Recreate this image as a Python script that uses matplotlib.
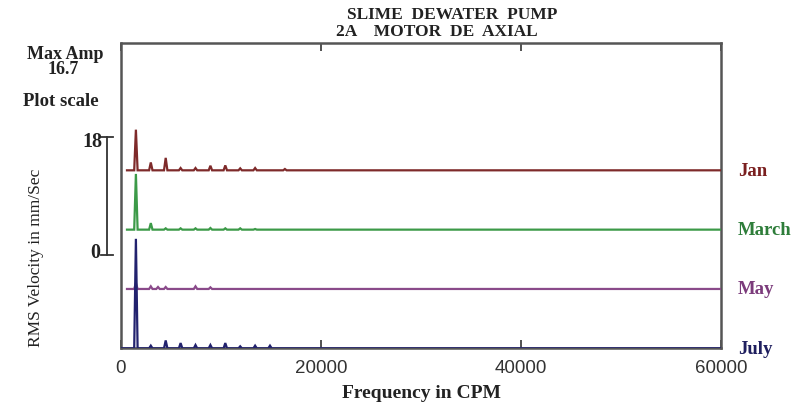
import matplotlib
matplotlib.use("Agg")
import matplotlib.pyplot as plt
import matplotlib.transforms as mtransforms

# ---- data -----------------------------------------------------------------
months = ["Jan", "March", "May", "July"]

# spectral peaks (frequency in CPM, RMS velocity in mm/s) for each survey
jan_freq = [1490, 2980, 4470, 5960, 7450, 8940, 10430, 11920, 13410, 16390]
jan_amp = [6.2, 1.2, 1.9, 0.35, 0.35, 0.7, 0.75, 0.3, 0.35, 0.2]

march_freq = [1490, 2980, 4470, 5960, 7450, 8940, 10430, 11920, 13410]
march_amp = [8.5, 1.0, 0.2, 0.2, 0.2, 0.25, 0.2, 0.2, 0.1]

may_freq = [1490, 2980, 3700, 4470, 7450, 8940]
may_amp = [0.9, 0.4, 0.3, 0.3, 0.4, 0.25]

july_freq = [1490, 2980, 4470, 5960, 7450, 8940, 10430, 11920, 13410, 14900]
july_amp = [16.7, 0.4, 1.2, 0.8, 0.5, 0.5, 0.8, 0.3, 0.4, 0.4]

max_amp = 16.7
plot_scale = 18
trace_spacing = 9.05          # vertical offset between stacked traces (mm/s)
x_ticks = [0, 20000, 40000, 60000]

# ---- styling --------------------------------------------------------------
trace_colors = ["#7e2a2a", "#3c9a48", "#8a4a8a", "#22226e"]
label_colors = ["#7a1f1f", "#2e7d3a", "#7b3b7b", "#1f1f5f"]
SERIF = ["Liberation Serif", "DejaVu Serif"]
SANS = ["Liberation Sans", "DejaVu Sans"]

W, H = 807, 410
fig = plt.figure(figsize=(W / 100, H / 100), dpi=100)
ax = fig.add_axes([121 / W, 1 - 349.3 / H, 600 / W, 305.3 / H])


def spectrum(freqs, amps, start, end, half_width=170):
    """Line through narrow triangular peaks sitting on a flat baseline."""
    xs, ys = [start], [0.0]
    for f, a in sorted(zip(freqs, amps)):
        xs += [f - half_width, f, f + half_width]
        ys += [0.0, a, 0.0]
    xs.append(end)
    ys.append(0.0)
    return xs, ys


series = [(jan_freq, jan_amp), (march_freq, march_amp),
          (may_freq, may_amp), (july_freq, july_amp)]
n = len(series)
for i, ((fr, am), col) in enumerate(zip(series, trace_colors)):
    offset = (n - 1 - i) * trace_spacing
    xs, ys = spectrum(fr, am, 600 if i < n - 1 else 0, 60000)
    ax.plot(xs, [y + offset for y in ys], color=col, lw=1.6,
            solid_joinstyle="miter", zorder=3 + i)

ax.set_xlim(0, 60000)
ax.set_ylim(0, (349.3 - 44) / (118 / plot_scale))
ax.set_xticks(x_ticks)
ax.set_xticklabels([str(t) for t in x_ticks], family=SANS, fontsize=13.5,
                   color="#333333")
ax.tick_params(axis="x", direction="in", length=6, width=1.2,
               top=True, bottom=True, pad=8, colors="#333333")
ax.set_yticks([])
for sp in ax.spines.values():
    sp.set_linewidth(1.8)
    sp.set_color("#555555")

# month names at the right end of each trace
for i, (m, c) in enumerate(zip(months, label_colors)):
    offset = (n - 1 - i) * trace_spacing
    ax.text(1.028, offset, m, transform=ax.get_yaxis_transform(),
            ha="left", va="center", family=SERIF, fontweight="bold",
            fontsize=13.5, color=c, clip_on=False)

# amplitude scale bar to the left of the traces
blend = mtransforms.blended_transform_factory(ax.transAxes, ax.transData)
bar_lo = (349.3 - 256) / (118 / plot_scale)
bar_hi = bar_lo + plot_scale
ax.plot([-0.024, -0.024], [bar_lo, bar_hi], color="#333333", lw=1.3,
        transform=blend, clip_on=False)
for yv in (bar_lo, bar_hi):
    ax.plot([-0.034, -0.014], [yv, yv], color="#333333", lw=1.3,
            transform=blend, clip_on=False)
ax.text(-0.031, bar_hi - 0.6, str(plot_scale), transform=blend, ha="right",
        va="center", family=SERIF, fontweight="bold", fontsize=14.5,
        color="#222222")
ax.text(-0.034, bar_lo + 0.4, "0", transform=blend, ha="right",
        va="center", family=SERIF, fontweight="bold", fontsize=14.5,
        color="#222222")


def ftext(x, y, s, **kw):
    fig.text(x / W, 1 - y / H, s, family=SERIF, color="#222222", **kw)


ftext(452, 19, "SLIME  DEWATER  PUMP", ha="center", va="baseline",
      fontweight="bold", fontsize=12.5)
ftext(437, 36, "2A    MOTOR  DE  AXIAL", ha="center", va="baseline",
      fontweight="bold", fontsize=12.5)
ftext(65, 59, "Max Amp", ha="center", va="baseline", fontweight="bold",
      fontsize=13)
ftext(63, 74.5, f"{max_amp}", ha="center", va="baseline", fontweight="bold",
      fontsize=13)
ftext(61, 106, "Plot scale", ha="center", va="baseline", fontweight="bold",
      fontsize=13.5)
ftext(36, 258, "RMS Velocity in mm/Sec", ha="center", va="center",
      rotation=90, fontsize=12.5)
ftext(421, 394, "Frequency in CPM", ha="center", va="center",
      fontweight="bold", fontsize=14)

fig.savefig("out.png", dpi=100, facecolor="white")
